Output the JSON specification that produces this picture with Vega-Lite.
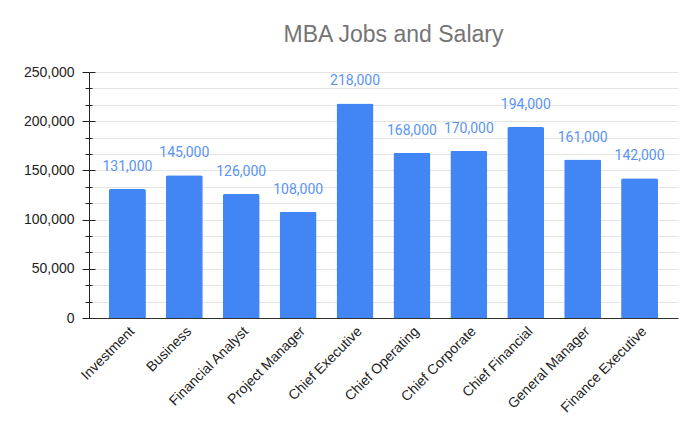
{
  "$schema": "https://vega.github.io/schema/vega-lite/v6.json",
  "autosize": "none",
  "width": 589,
  "height": 246,
  "padding": {"left": 89, "top": 72, "right": 22, "bottom": 115},
  "background": "white",
  "title": {
    "text": "MBA Jobs and Salary",
    "font": "Liberation Sans",
    "fontSize": 23,
    "fontWeight": "normal",
    "color": "#757575",
    "anchor": "middle",
    "dx": 10,
    "offset": 18
  },
  "config": {
    "view": {"stroke": null},
    "axis": {"labelFont": "Liberation Sans", "titleFont": "Liberation Sans"}
  },
  "data": {
    "values": [
      {"job": "Investment", "salary": 131000},
      {"job": "Business", "salary": 145000},
      {"job": "Financial Analyst", "salary": 126000},
      {"job": "Project Manager", "salary": 108000},
      {"job": "Chief Executive", "salary": 218000},
      {"job": "Chief Operating", "salary": 168000},
      {"job": "Chief Corporate", "salary": 170000},
      {"job": "Chief Financial", "salary": 194000},
      {"job": "General Manager", "salary": 161000},
      {"job": "Finance Executive", "salary": 142000}
    ]
  },
  "encoding": {
    "x": {
      "field": "job",
      "type": "nominal",
      "sort": null,
      "scale": {"paddingInner": 0.35, "paddingOuter": 0.35},
      "axis": {
        "title": null,
        "labelAngle": -45,
        "labelFontSize": 14,
        "labelColor": "#222222",
        "ticks": false,
        "labelPadding": 6,
        "domainColor": "#333333",
        "domainWidth": 1
      }
    }
  },
  "layer": [
    {
      "mark": {"type": "bar", "color": "#4285F4", "cornerRadiusTopLeft": 2, "cornerRadiusTopRight": 2},
      "encoding": {
        "y": {
          "field": "salary",
          "type": "quantitative",
          "scale": {"domain": [0, 250000], "nice": false},
          "axis": {
            "title": null,
            "values": [0, 16666.67, 33333.33, 50000, 66666.67, 83333.33, 100000, 116666.67, 133333.33, 150000, 166666.67, 183333.33, 200000, 216666.67, 233333.33, 250000],
            "labelExpr": "datum.value % 50000 === 0 ? format(datum.value, ',') : ''",
            "labelFontSize": 14,
            "labelColor": "#222222",
            "labelPadding": 8,
            "tickSize": {"condition": {"test": "datum.value % 50000 === 0", "value": 7}, "value": 4},
            "tickColor": "#222222",
            "domainColor": "#222222",
            "gridColor": "#e4e4e4",
            "labelOverlap": false
          }
        }
      }
    },
    {
      "mark": {"type": "text", "font": "Roboto", "fontSize": 14, "color": "#5a94f5", "baseline": "alphabetic", "dy": -18},
      "encoding": {
        "y": {
          "field": "salary",
          "type": "quantitative",
          "axis": {
            "orient": "left",
            "title": null,
            "values": [0, 16666.67, 33333.33, 50000, 66666.67, 83333.33, 100000, 116666.67, 133333.33, 150000, 166666.67, 183333.33, 200000, 216666.67, 233333.33, 250000],
            "labels": false,
            "domain": false,
            "grid": false,
            "tickSize": {"condition": {"test": "datum.value % 50000 === 0", "value": -6}, "value": -3},
            "tickColor": "#222222"
          }
        },
        "text": {"field": "salary", "type": "quantitative", "format": ","}
      }
    }
  ],
  "resolve": {"axis": {"y": "independent"}}
}
